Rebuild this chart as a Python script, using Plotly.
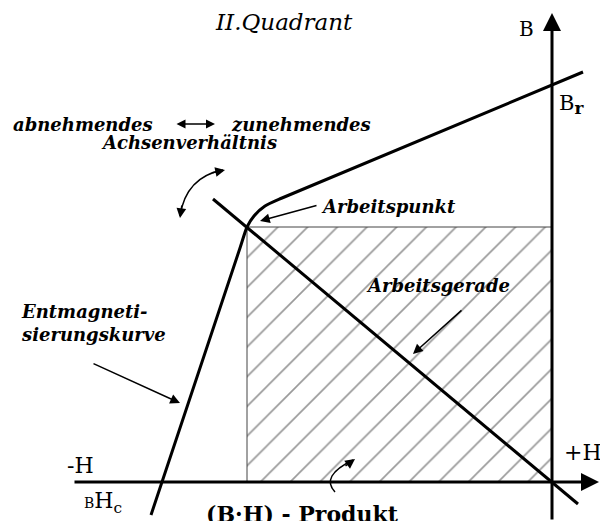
import plotly.graph_objects as go

# ---- schematic data (arbitrary units: H horizontal, B vertical) ----
Br = 397            # remanence (B at H = 0)
Hc = -390           # coercive field (H at B = 0)
work_H = -305       # working point H
work_B = 255        # working point B

# demagnetisation curve (upper straight part, knee, steep part)
demag_H = [31, -270, -287, -298, -305, -312, -401]
demag_B = [410, 284, 276, 266, 255, 234, -33]

# load line (Arbeitsgerade) through origin and working point
load_H = [-339, 26]
load_B = [283, -22]

# (B·H) product rectangle
rect_H = [work_H, work_H, 0, 0, work_H]
rect_B = [0, work_B, work_B, 0, 0]

SERIF = "DejaVu Serif"
BI = dict(family=SERIF, size=18, color="black", weight="bold", style="italic")

fig = go.Figure()

fig.add_trace(go.Scatter(
    x=rect_H, y=rect_B, mode="lines", fill="toself",
    fillcolor="rgba(0,0,0,0)",
    fillpattern=dict(shape="/", size=21, solidity=0.08, fgcolor="#333", bgcolor="white"),
    line=dict(color="#444", width=1), hoverinfo="skip"))

fig.add_trace(go.Scatter(
    x=demag_H, y=demag_B, mode="lines",
    line=dict(color="black", width=3, shape="spline", smoothing=0.6), hoverinfo="skip"))

fig.add_trace(go.Scatter(
    x=load_H, y=load_B, mode="lines",
    line=dict(color="black", width=3), hoverinfo="skip"))

ann = []
# axes with arrows
ann.append(dict(x=0, y=469, ax=0, ay=-39, xref="x", yref="y", axref="x", ayref="y",
                text="", showarrow=True, arrowhead=2, arrowsize=1.2, arrowwidth=3,
                arrowcolor="black", standoff=0))
ann.append(dict(x=47, y=0, ax=-479, ay=0, xref="x", yref="y", axref="x", ayref="y",
                text="", showarrow=True, arrowhead=2, arrowsize=1.2, arrowwidth=3,
                arrowcolor="black", standoff=0))

def txt(x, y, t, font, xanchor="center", yanchor="middle", align="center"):
    ann.append(dict(x=x, y=y, xref="x", yref="y", text=t, showarrow=False,
                    font=font, xanchor=xanchor, yanchor=yanchor, align=align))

def arrow(x, y, ax, ay, width=1.5, head=2, size=1.3, side="end", ref=True):
    d = dict(x=x, y=y, ax=ax, ay=ay, xref="x", yref="y", text="", showarrow=True,
             arrowhead=head, arrowsize=size, arrowwidth=width, arrowcolor="black",
             standoff=0, startstandoff=0, arrowside=side, startarrowhead=head,
             startarrowsize=size)
    if ref:
        d.update(axref="x", ayref="y")
    ann.append(d)

txt(-268, 460, "II.Quadrant", dict(family=SERIF, size=23, color="black", style="italic"))
txt(-26, 453, "B", dict(family=SERIF, size=20, color="black"))
txt(5, 378, "B<sub><span style='font-size:17px;font-weight:bold'>r</span></sub>",
    dict(family=SERIF, size=21, color="black"), xanchor="left")
txt(-472, 17, "-H", dict(family=SERIF, size=22, color="black"))
txt(10, 30, "+H", dict(family=SERIF, size=22, color="black"), xanchor="left")
txt(-470, -20, "<span style='font-size:14px'>B</span>H<sub>c</sub>",
    dict(family=SERIF, size=22, color="black"), xanchor="left")
txt(-250, -32, "(B·H) - Produkt", dict(family=SERIF, size=22, color="black", weight="bold"))

txt(-541, 358, "abnehmendes", BI, xanchor="left")
txt(-323, 358, "zunehmendes", BI, xanchor="left")
arrow(-337, 358, -377, 358, width=1.5, head=2, size=1.2, side="end+start")
txt(-363, 340, "Achsenverhältnis", BI)

txt(-164, 276, "Arbeitspunkt", BI)
arrow(-292, 261, -234, 277)
txt(-114, 197, "Arbeitsgerade", BI)
arrow(-139, 128, -89, 173)
txt(-533, 159, "Entmagneti-<br>sierungskurve", BI, xanchor="left", align="left")
arrow(-372, 79, -460, 119)

# curved double arrow (axis ratio)
arrow(-372, 264, 2, -14, ref=False)
arrow(-327, 312, -14, 3, ref=False)
# small hooked arrow into the product area
arrow(-197, 23, -11, 8, ref=False)

shapes = [
    dict(type="path", path="M -372,266 Q -366,305 -329,312", xref="x", yref="y",
         line=dict(color="black", width=1.5)),
    dict(type="path", path="M -217,-10 Q -232,6 -199,22", xref="x", yref="y",
         line=dict(color="black", width=1.5)),
]

fig.update_layout(
    width=600, height=521, margin=dict(l=0, r=0, t=0, b=0),
    paper_bgcolor="white", plot_bgcolor="white", showlegend=False,
    xaxis=dict(range=[-552, 48], visible=False, fixedrange=True),
    yaxis=dict(range=[-39, 482], visible=False, fixedrange=True),
    annotations=ann, shapes=shapes,
)

fig.write_html("out.html", config={"displayModeBar": False},
               post_script="document.body.style.margin='0';document.body.style.overflow='hidden';")
